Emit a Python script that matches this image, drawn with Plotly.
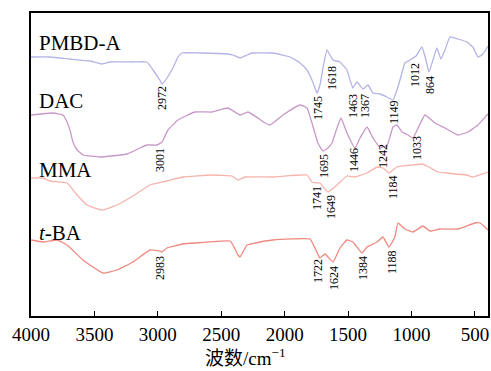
import plotly.graph_objects as go

# ---- data (wavenumber cm-1, transmittance a.u.) ----
pmbd_wn = [4000, 3850, 3693, 3535, 3440, 3377, 3196, 3086, 3038, 2985, 2967, 2928, 2881, 2841, 2810,
           2668, 2447, 2408, 2352, 2297, 2258, 2092, 1958, 1879, 1824, 1785, 1761, 1745, 1722, 1698,
           1667, 1643, 1619, 1564, 1509, 1485, 1462, 1430, 1383, 1343, 1304, 1249, 1194, 1146, 1115,
           1091, 1052, 1012, 965, 918, 886, 863, 831, 800, 768, 736, 697, 634, 563, 516, 476, 445, 405, 397]
pmbd_t = [259, 259, 257, 255, 252, 254, 254, 254, 246, 236, 232, 238, 248, 259, 263,
          263, 262, 261, 258, 261, 263, 263, 259, 253, 246, 236, 228, 223, 231, 248,
          266, 261, 256, 254, 246, 236, 228, 234, 227, 231, 223, 222, 219, 216, 226,
          236, 253, 256, 260, 269, 256, 244, 256, 268, 257, 266, 279, 277, 274, 269, 259, 261, 268, 270]

dac_wn = [4000, 3827, 3748, 3716, 3693, 3669, 3637, 3590, 3456, 3243, 3141, 3086, 3007, 2967, 2920,
          2841, 2707, 2573, 2447, 2352, 2289, 2211, 2155, 2116, 2013, 1879, 1824, 1785, 1738, 1698,
          1659, 1627, 1588, 1556, 1509, 1446, 1406, 1351, 1304, 1249, 1194, 1146, 1115, 1075, 1028,
          989, 894, 815, 736, 634, 555, 476, 405, 397]
dac_t = [201, 203, 201, 194, 186, 174, 166, 161, 159, 162, 168, 171, 171, 174, 186,
         196, 204, 204, 208, 201, 204, 198, 193, 191, 201, 211, 208, 193, 173, 165,
         168, 173, 188, 198, 183, 168, 178, 189, 178, 169, 170, 189, 191, 184, 181,
         178, 201, 193, 188, 181, 184, 191, 201, 202]

mma_wn = [4000, 3905, 3850, 3716, 3637, 3559, 3440, 3322, 3196, 3062, 2928, 2802, 2573, 2416, 2368,
          2313, 2092, 1824, 1785, 1745, 1722, 1659, 1588, 1509, 1446, 1351, 1272, 1225, 1178, 1115,
          989, 918, 878, 792, 721, 658, 563, 516, 421, 397]
mma_t = [138, 138, 135, 133, 121, 111, 106, 111, 120, 131, 135, 139, 141, 140, 136,
         139, 139, 141, 134, 133, 133, 124, 131, 140, 139, 143, 149, 148, 143, 149,
         151, 152, 150, 144, 143, 142, 141, 139, 143, 144]

tba_wn = [4000, 3905, 3795, 3716, 3590, 3432, 3322, 3196, 3062, 2983, 2968, 2928, 2802, 2707, 2431,
          2408, 2368, 2352, 2329, 2297, 2234, 2092, 1801, 1761, 1722, 1682, 1619, 1564, 1509, 1462,
          1391, 1351, 1272, 1225, 1178, 1131, 1107, 1052, 989, 910, 855, 776, 634, 500, 460, 405, 397]
tba_t = [76, 74, 76, 71, 56, 43, 46, 54, 66, 65, 64, 68, 72, 73, 75,
         71, 61, 59, 64, 71, 73, 76, 77, 68, 58, 62, 54, 68, 76, 74,
         63, 69, 74, 79, 69, 79, 93, 87, 84, 90, 85, 87, 87, 93, 93, 87, 86]

series_names = ["PMBD-A", "DAC", "MMA", "<i>t</i>-BA"]
series_colors = ["#b4b4e6", "#c898c8", "#f6b4ac", "#ee8a80"]

peak_text = ["2972", "3001", "1745", "1618", "1463", "1367", "1149", "1012", "864",
             "1695", "1446", "1242", "1033", "1741", "1649", "1184",
             "2983", "1722", "1624", "1384", "1188"]
peak_x = [2967, 2983, 1738, 1627, 1462, 1367, 1138, 973, 855,
          1690, 1454, 1225, 957, 1745, 1635, 1146,
          2983, 1738, 1612, 1383, 1154]
peak_y = [218, 156, 208, 238, 210, 210, 204, 241, 231,
          150, 156, 160, 168, 118, 109, 129,
          48, 45, 38, 48, 54]

name_y = [273, 215, 146, 83]

xticks = [4000, 3500, 3000, 2500, 2000, 1500, 1000, 500]

fig = go.Figure()
for wn, t, c in [(pmbd_wn, pmbd_t, series_colors[0]), (dac_wn, dac_t, series_colors[1]),
                 (mma_wn, mma_t, series_colors[2]), (tba_wn, tba_t, series_colors[3])]:
    fig.add_trace(go.Scatter(x=wn, y=t, mode="lines",
                             line=dict(color=c, width=1.3, shape="spline", smoothing=0.35),
                             showlegend=False, hoverinfo="skip"))

serif = "Liberation Serif, Times New Roman, serif"
annotations = []
for nm, yy in zip(series_names, name_y):
    annotations.append(dict(x=3955, y=yy, xref="x", yref="y", text=nm, showarrow=False,
                            xanchor="left", yanchor="middle", font=dict(family=serif, size=21, color="black")))
for tx, px, py in zip(peak_text, peak_x, peak_y):
    annotations.append(dict(x=px, y=py, xref="x", yref="y", text=tx, showarrow=False, textangle=-90,
                            xanchor="center", yanchor="middle", font=dict(family=serif, size=12, color="black")))
annotations.append(dict(x=0.47, y=-0.135, xref="paper", yref="paper", yanchor="middle", xanchor="center",
                        text="<span style=\"font-family:'Noto Sans CJK SC'\">波数</span>/cm<sup>−1</sup>",
                        showarrow=False, font=dict(family=serif, size=19, color="black")))

fig.update_layout(
    width=491, height=371,
    margin=dict(l=31, r=3, t=13, b=55, autoexpand=False),
    paper_bgcolor="white", plot_bgcolor="white",
    annotations=annotations,
    xaxis=dict(range=[4000, 397], tickvals=xticks, ticktext=[str(v) for v in xticks],
               ticks="inside", ticklen=5, tickwidth=1.3, tickcolor="black",
               showline=True, linecolor="black", linewidth=1.5, mirror=True,
               showgrid=False, zeroline=False, automargin=False,
               tickfont=dict(family=serif, size=19, color="black")),
    yaxis=dict(range=[0, 303], showticklabels=False, ticks="", showline=True, linecolor="black",
               linewidth=1.5, mirror=True, showgrid=False, zeroline=False, automargin=False),
)

fig.write_html("out.html", config={"displayModeBar": False},
               post_script="document.body.style.margin='0px';document.body.style.overflow='hidden';")
